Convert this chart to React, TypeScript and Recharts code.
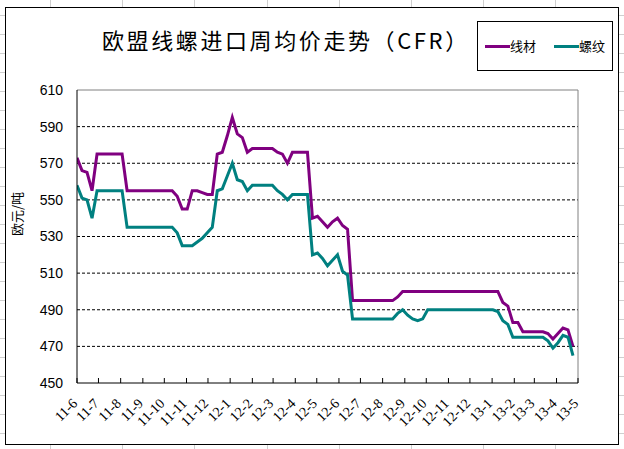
import React from 'react';
import { LineChart, Line, XAxis, YAxis, CartesianGrid, ReferenceLine } from 'recharts';

// ---- data ----
const seriesNames = ['线材', '螺纹'];
const seriesColors = ['#800080', '#008080'];

// weekly observations starting 2011-06-01
const firstWeek = '2011-06-01';

const wireRod = [
  573, 566, 565, 555, 575, 575, 575, 575, 575, 575,
  555, 555, 555, 555, 555, 555, 555, 555, 555, 555,
  552, 545, 545, 555, 555, 554, 553, 553, 575, 576,
  585, 595, 586, 584, 576, 578, 578, 578, 578, 578,
  576, 575, 570, 576, 576, 576, 576, 540, 541, 538,
  535, 538, 540, 536, 534, 495, 495, 495, 495, 495,
  495, 495, 495, 495, 497, 500, 500, 500, 500, 500,
  500, 500, 500, 500, 500, 500, 500, 500, 500, 500,
  500, 500, 500, 500, 500, 494, 492, 483, 483, 478,
  478, 478, 478, 478, 477, 474, 477, 480, 479, 470,
];

const rebar = [
  558, 551, 550, 540, 555, 555, 555, 555, 555, 555,
  535, 535, 535, 535, 535, 535, 535, 535, 535, 535,
  532, 525, 525, 525, 527, 529, 532, 535, 555, 556,
  563, 570, 561, 560, 555, 558, 558, 558, 558, 558,
  555, 553, 550, 553, 553, 553, 553, 520, 521, 518,
  514, 517, 520, 511, 509, 485, 485, 485, 485, 485,
  485, 485, 485, 485, 488, 490, 487, 485, 484, 485,
  490, 490, 490, 490, 490, 490, 490, 490, 490, 490,
  490, 490, 490, 490, 489, 484, 482, 475, 475, 475,
  475, 475, 475, 475, 473, 469, 472, 476, 475, 465,
];

const monthLabels = [
  '11-6', '11-7', '11-8', '11-9', '11-10', '11-11', '11-12',
  '12-1', '12-2', '12-3', '12-4', '12-5', '12-6', '12-7', '12-8', '12-9', '12-10', '12-11', '12-12',
  '13-1', '13-2', '13-3', '13-4', '13-5',
];

const yTicks = [450, 470, 490, 510, 530, 550, 570, 590, 610];
const yGrid = [470, 490, 510, 530, 550, 570, 590];

// ---- derived ----
const DAY = 86400000;
const origin = Date.parse(firstWeek + 'T00:00:00Z');
const data = wireRod.map((w, i) => ({ day: i * 7, wire: w, rebar: rebar[i] }));
const monthDay = (label: string) => {
  const [yy, mm] = label.split('-').map(Number);
  return Math.round((Date.UTC(2000 + yy, mm - 1, 1) - origin) / DAY);
};
const monthTicks = monthLabels.map(monthDay);
const labelByDay = new Map(monthLabels.map((l) => [monthDay(l), l]));
const xMax = monthTicks[monthTicks.length - 1];

const XTick = (props: any) => {
  const { x, y, payload } = props;
  const axisY = y - 8;
  const ax = x - 2;
  const ay = axisY + 18;
  return (
    <g>
      <line x1={x} x2={x} y1={axisY} y2={axisY - 5} stroke="#000" strokeWidth={1} />
      <text
        x={ax}
        y={ay}
        textAnchor="end"
        dominantBaseline="central"
        transform={`rotate(-45 ${ax} ${ay})`}
        fontFamily="'Liberation Serif', serif"
        fontSize={14}
        fill="#000"
      >
        {labelByDay.get(payload.value)}
      </text>
    </g>
  );
};

export default function App() {
  return (
    <div
      style={{
        position: 'fixed',
        left: 0,
        top: 0,
        width: 624,
        height: 449,
        overflow: 'hidden',
        background:
          'repeating-linear-gradient(to right, transparent 0px, transparent 50px, #cfcfcf 50px, #cfcfcf 51px, transparent 51px, transparent 72.2px),' +
          'repeating-linear-gradient(to bottom, transparent 0px, transparent 15px, #cfcfcf 15px, #cfcfcf 16px, transparent 16px, transparent 19px), #fff',
      }}
    >
      <div
        style={{
          position: 'absolute',
          left: 5,
          top: 7,
          width: 614,
          height: 438,
          boxSizing: 'border-box',
          border: '1px solid #000',
          background: '#fff',
        }}
      />
      <div
        style={{
          position: 'absolute',
          left: 102,
          top: 26,
          width: 356,
          textAlign: 'center',
          fontFamily: "'Noto Sans CJK SC', sans-serif",
          fontSize: 22,
          letterSpacing: 2.6,
          lineHeight: '26px',
          whiteSpace: 'nowrap',
          color: '#000',
        }}
      >
        欧盟线螺进口周均价走势（CFR）
      </div>
      <div
        style={{
          position: 'absolute',
          left: 477,
          top: 21,
          width: 136,
          height: 50,
          boxSizing: 'border-box',
          border: '1px solid #000',
          background: '#fff',
        }}
      >
        {seriesNames.map((name, i) => (
          <div
            key={name}
            style={{
              position: 'absolute',
              left: 7 + i * 69,
              top: 15,
              display: 'flex',
              alignItems: 'center',
              fontFamily: "'Noto Sans CJK SC', sans-serif",
              fontSize: 13,
              lineHeight: '18px',
              color: '#000',
            }}
          >
            <span style={{ display: 'inline-block', width: 25, height: 3, background: seriesColors[i] }} />
            <span>{name}</span>
          </div>
        ))}
      </div>
      <div
        style={{
          position: 'absolute',
          left: 16,
          top: 214,
          transform: 'translate(-50%, -50%) rotate(-90deg)',
          fontFamily: "'Noto Sans CJK SC', sans-serif",
          fontSize: 13,
          whiteSpace: 'nowrap',
          color: '#000',
        }}
      >
        欧元/吨
      </div>
      <div style={{ position: 'absolute', left: 0, top: 0 }}>
        <LineChart
          width={624}
          height={449}
          data={data}
          margin={{ top: 90, right: 46, bottom: 16, left: 17 }}
        >
          <CartesianGrid
            horizontal
            vertical={false}
            horizontalValues={yGrid}
            stroke="#000"
            strokeDasharray="3 2"
          />
          <XAxis
            dataKey="day"
            type="number"
            domain={[0, xMax]}
            ticks={monthTicks}
            interval={0}
            height={50}
            tickSize={6}
            tickMargin={2}
            tickLine={false}
            axisLine={{ stroke: '#000' }}
            tick={<XTick />}
            allowDataOverflow
          />
          <YAxis
            type="number"
            domain={[450, 610]}
            ticks={yTicks}
            interval={0}
            width={60}
            tickLine={false}
            tickSize={6}
            tickMargin={8}
            axisLine={{ stroke: '#000' }}
            tick={{ fill: '#000', fontSize: 14, fontFamily: "'Liberation Sans', sans-serif" }}
          />
          <ReferenceLine y={610} stroke="#808080" />
          <ReferenceLine x={xMax} stroke="#808080" />
          <Line
            type="linear"
            dataKey="wire"
            name={seriesNames[0]}
            stroke={seriesColors[0]}
            strokeWidth={3}
            dot={false}
            activeDot={false}
            isAnimationActive={false}
          />
          <Line
            type="linear"
            dataKey="rebar"
            name={seriesNames[1]}
            stroke={seriesColors[1]}
            strokeWidth={3}
            dot={false}
            activeDot={false}
            isAnimationActive={false}
          />
        </LineChart>
      </div>
    </div>
  );
}
